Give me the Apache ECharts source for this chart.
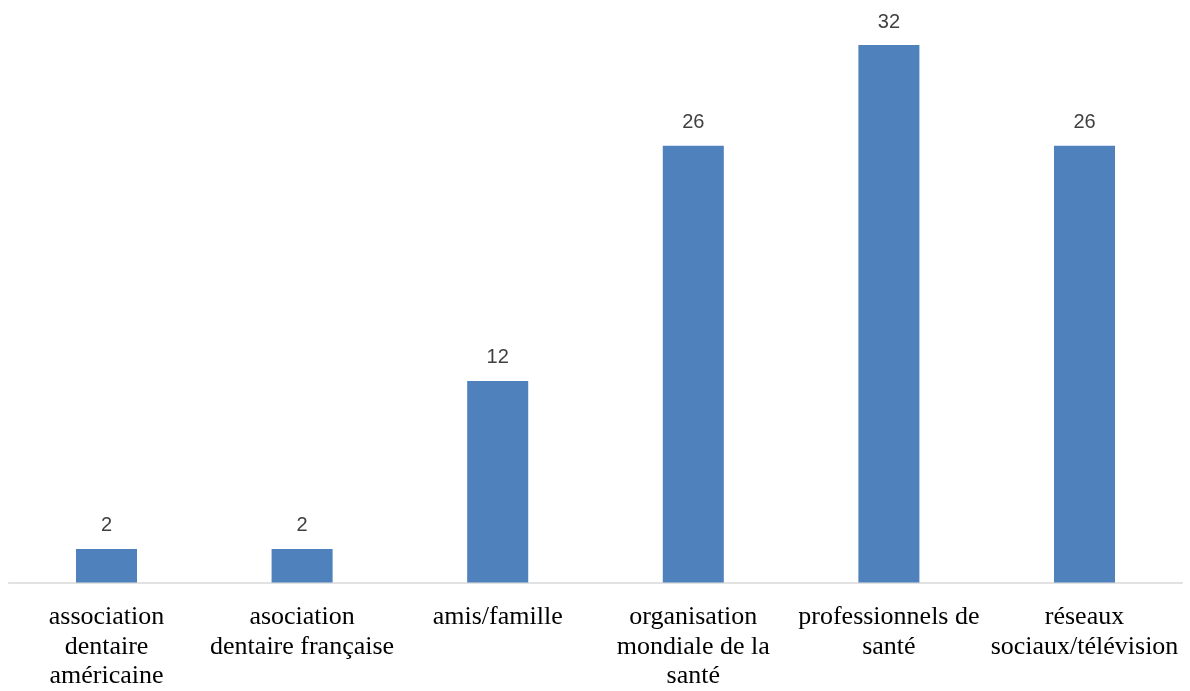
<!DOCTYPE html>
<html>
<head>
<meta charset="utf-8">
<script src="https://cdn.jsdelivr.net/npm/echarts@6/dist/echarts.min.js"></script>
<style>html,body{margin:0;padding:0;background:#fff;}#c{width:1190px;height:691px;}</style>
</head>
<body>
<div id="c"></div>
<script>
const categories = ["association dentaire américaine", "asociation dentaire française", "amis/famille", "organisation mondiale de la santé", "professionnels de santé", "réseaux sociaux/télévision"];
const tickLabels = ["association\ndentaire\naméricaine", "asociation\ndentaire française", "amis/famille", "organisation\nmondiale de la\nsanté", "professionnels de\nsanté", "réseaux\nsociaux/télévision"];
const values = [2, 2, 12, 26, 32, 26];

const chart = echarts.init(document.getElementById('c'), null, {renderer: 'canvas'});
chart.setOption({
  animation: false,
  grid: {left: 8.7, right: 7.7, top: 11.4, bottom: 107.7, containLabel: false},
  xAxis: {
    type: 'category',
    data: categories,
    axisLine: {lineStyle: {color: '#d9d9d9', width: 1.5}},
    axisTick: {show: false},
    axisLabel: {
      interval: 0,
      margin: 20,
      fontFamily: 'Liberation Serif',
      fontSize: 26,
      lineHeight: 29.5,
      color: '#000',
      formatter: (v, i) => tickLabels[i]
    }
  },
  yAxis: {
    type: 'value',
    min: 0, max: 34,
    show: false,
    splitLine: {show: false}
  },
  series: [{
    type: 'bar',
    data: values,
    barWidth: '31.2%',
    itemStyle: {color: '#4f81bd'},
    label: {
      show: true,
      position: 'top',
      distance: 13,
      fontFamily: 'Liberation Sans',
      fontSize: 20,
      color: '#404040'
    }
  }]
});
</script>
</body>
</html>
